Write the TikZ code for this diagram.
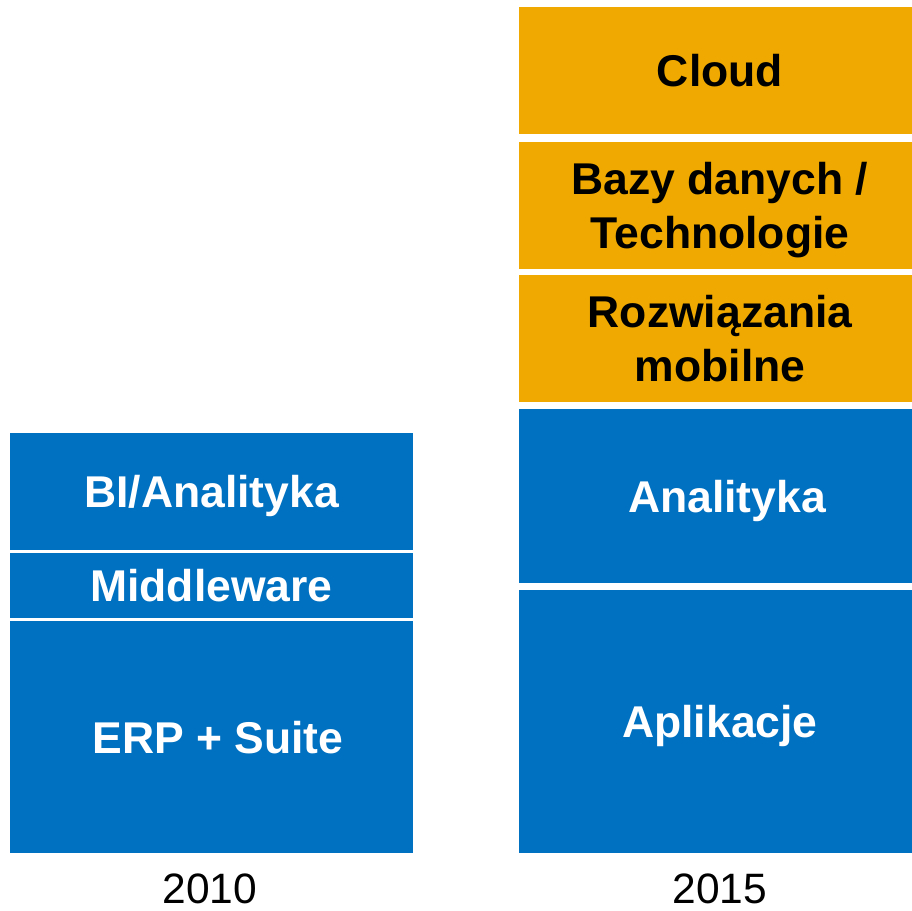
\documentclass[tikz,border=0pt]{standalone}
\usepackage{fontspec}
\setmainfont{Liberation Sans}
\definecolor{sapblue}{HTML}{0070C0}
\definecolor{saporange}{HTML}{EFA900}
\begin{document}
\begin{tikzpicture}[x=1pt,y=-1pt,
  box/.style={rectangle, inner sep=0pt, outer sep=0pt, align=center, text depth=0pt,
    font=\bfseries\fontsize{44.5}{53.4}\selectfont},
  bluebox/.style={box, fill=sapblue, text=white},
  orangebox/.style={box, fill=saporange, text=black},
  yearlabel/.style={font=\fontsize{42.5}{50}\selectfont, text=black, inner sep=0pt, anchor=base}]
\useasboundingbox (0,0) rectangle (911,911);
% left column (2010)
\node[bluebox, minimum width=403pt, minimum height=117pt] (bi) at (211.5,491.5) {BI/Analityka};
\node[bluebox, minimum width=403pt, minimum height=65pt] (mw) at (211.5,585.5) {Middleware};
\node[bluebox, minimum width=403pt, minimum height=232pt] (erp) at (211.5,737) {\hspace*{13pt}ERP + Suite};
% right column (2015)
\node[orangebox, minimum width=402pt, minimum height=127pt] (cloud) at (720,70.5) {Cloud};
\node[orangebox, minimum width=402pt, minimum height=127pt] (bazy) at (720,205.5) {Bazy danych /\\Technologie};
\node[orangebox, minimum width=402pt, minimum height=127pt] (mob) at (720,338.5) {Rozwiązania\\mobilne};
\node[bluebox, minimum width=402pt, minimum height=174pt] (anal) at (720,496) {\hspace*{14pt}Analityka};
\node[bluebox, minimum width=402pt, minimum height=263pt] (apl) at (720,721.5) {Aplikacje};
% years
\node[yearlabel] (y2010) at (210,903) {2010};
\node[yearlabel] (y2015) at (720,903) {2015};
\end{tikzpicture}
\end{document}
